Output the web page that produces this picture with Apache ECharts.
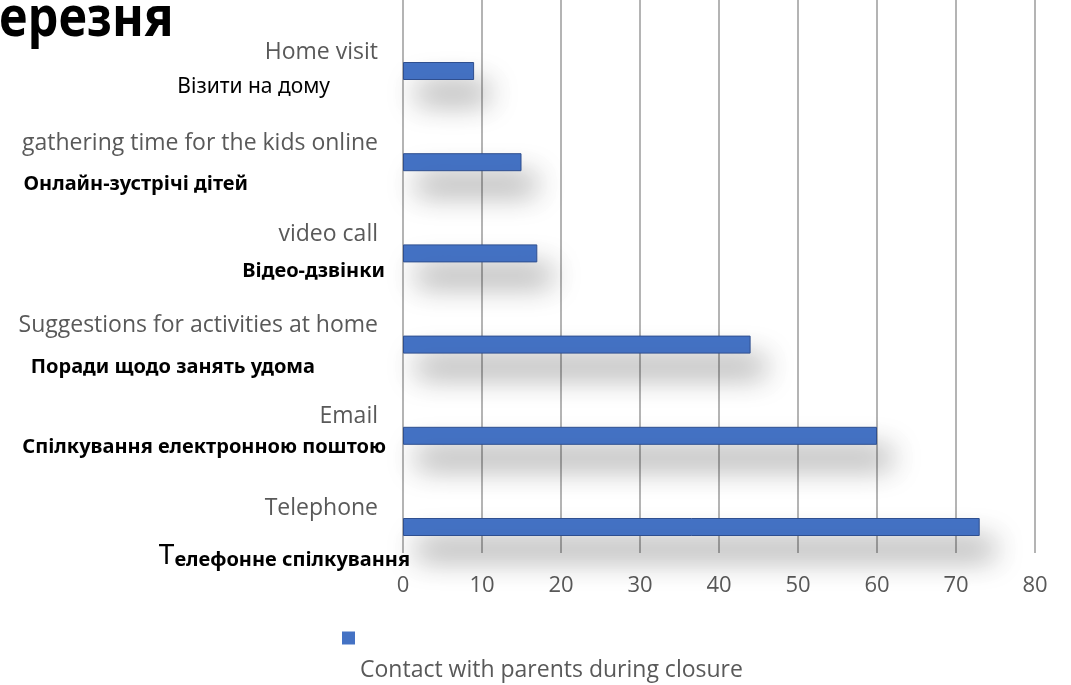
<!DOCTYPE html>
<html><head><meta charset="utf-8">
<script src="https://cdn.jsdelivr.net/npm/echarts@6/dist/echarts.min.js"></script>
<style>html,body{margin:0;padding:0;background:#fff}#c{width:1071px;height:685px}</style>
</head><body><div id="c"></div>
<script>
const categories = ['Home visit','gathering time for the kids online','video call','Suggestions for activities at home','Email','Telephone'];
const categoriesUk = ['Візити на дому','Онлайн-зустрічі дітей','Відео-дзвінки','Поради щодо занять удома','Спілкування електронною поштою','Телефонне спілкування'];
const values = [9,15,17,44,60,73];
const seriesName = 'Contact with parents during closure';
const titleText = 'ерезня';

const chart = echarts.init(document.getElementById('c'));
const EN = '"Open Sans", "Noto Sans", sans-serif';
const UA = '"Noto Sans", sans-serif';
const ukPos = [
  {x:330,y:87,w:'normal',s:21},
  {x:248,y:184,w:'bold',s:20},
  {x:385,y:271,w:'bold',s:20},
  {x:315,y:367,w:'bold',s:20},
  {x:386,y:447,w:'bold',s:20},
  {x:410,y:556,w:'bold',s:20}
];
const graphics = [{
  type:'text', x:-1, y:-8, scaleX:0.87,
  style:{text:titleText, font:'bold 56px "Noto Sans", sans-serif', fill:'#000'}
}];
categoriesUk.forEach((t,i)=>{
  const p = ukPos[i];
  if (i === 5) {
    graphics.push({type:'text', x:p.x, y:p.y, style:{
      text:'{big|'+t.charAt(0)+'}{n|'+t.slice(1)+'}', align:'right', verticalAlign:'middle',
      rich:{big:{fontSize:28,fontWeight:'normal',fontFamily:UA,fill:'#000',verticalAlign:'bottom'},
            n:{fontSize:20,fontWeight:'bold',fontFamily:UA,fill:'#000',verticalAlign:'bottom'}}
    }});
  } else {
    graphics.push({type:'text', x:p.x, y:p.y, style:{
      text:t, align:'right', verticalAlign:'middle',
      font:p.w+' '+p.s+'px '+UA, fill:'#000'
    }});
  }
});

chart.setOption({
  animation:false,
  backgroundColor:'#fff',
  grid:[
    {left:403,right:36,top:25.4,bottom:112.4},
    {left:403,right:36,top:-20,bottom:132}
  ],
  xAxis:[
    {gridIndex:0,type:'value',min:0,max:80,interval:10,show:false,splitLine:{show:false}},
    {gridIndex:1,type:'value',min:0,max:80,interval:10,
     axisLine:{show:false},axisTick:{show:false},
     axisLabel:{color:'#595959',fontSize:22,fontFamily:EN,margin:22},
     splitLine:{show:true,lineStyle:{color:'#b4b4b4',width:2}}}
  ],
  yAxis:[
    {gridIndex:0,type:'category',inverse:true,data:categories,
     axisLine:{show:false},axisTick:{show:false},
     axisLabel:{color:'#595959',fontSize:23,fontFamily:EN,margin:25,lineHeight:38,
       formatter: v => v + '\n '}},
    {gridIndex:1,type:'value',show:false}
  ],
  legend:{
    left:337, top:585, itemWidth:13, itemHeight:13, itemGap:10,
    icon:'rect',
    itemStyle:{borderWidth:0},
    data:[seriesName],
    textStyle:{color:'#595959',fontSize:23,fontFamily:EN,lineHeight:32},
    formatter: n => '\n\n'+n
  },
  series:[{
    name:seriesName, type:'bar', xAxisIndex:0, yAxisIndex:0,
    data:values, barWidth:18,
    itemStyle:{color:'#4472C4',borderColor:'#2F4F8F',borderWidth:1,
      shadowBlur:30,shadowColor:'rgba(0,0,0,0.38)',shadowOffsetX:14,shadowOffsetY:22}
  }],
  graphic:graphics
});
</script></body></html>
